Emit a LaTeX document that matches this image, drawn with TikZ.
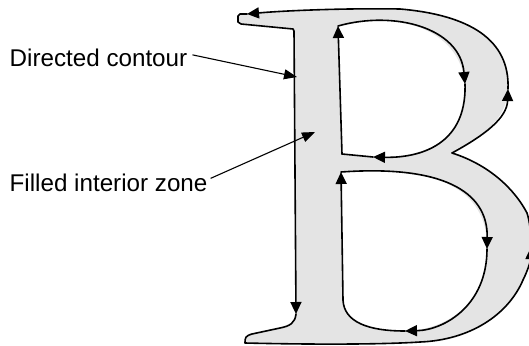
\documentclass[tikz,border=0pt]{standalone}
\usepackage{fontspec}
\setmainfont{Liberation Sans}
\usetikzlibrary{arrows.meta}
\definecolor{bfillc}{RGB}{228,228,228}
\begin{document}
\begin{tikzpicture}[x=1pt,y=-1pt,
  bcontour/.style={line width=1.6pt, line cap=round, line join=round},
  btip/.style={-{Triangle[length=12pt,width=11pt]}},
  leader/.style={line width=1.1pt, -{Triangle[length=13pt,width=10pt]}},
  lbl/.style={font=\fontsize{24.2}{28}\selectfont, inner sep=0pt, anchor=base west},
  % outer contour pieces
  o1/.style={insert path={.. controls (485,135) and (507,118) .. (508,89)}},
  o2/.style={insert path={.. controls (510,40) and (470,15) .. (400,9) .. controls (340,8) and (280,11) .. (247,14)}},
  o3/.style={insert path={-- (240,14) -- (238,16) -- (238,22) -- (241,24) -- (293,29) -- (294,31) -- (296,314)}},
  o4/.style={insert path={.. controls (295,323) and (290,326) .. (280,328) -- (252,334) .. controls (245,336) and (245,338) .. (245,343) .. controls (330,345) and (390,344) .. (420,342) .. controls (470,340) and (508,315) .. (523,280) .. controls (529,268) and (531,258) .. (531,247)}},
  o5/.style={insert path={.. controls (531,235) and (530,222) .. (527,213) .. controls (515,190) and (490,165) .. (452,153)}},
  % upper counter pieces
  u1/.style={insert path={-- (338,26)}},
  u2/.style={insert path={.. controls (395,10) and (460,28) .. (465,84)}},
  u3/.style={insert path={.. controls (467,150) and (412,158) .. (373,157)}},
  u4/.style={insert path={-- (342,154)}},
  % lower counter pieces
  l1/.style={insert path={-- (341,172)}},
  l2/.style={insert path={.. controls (440,165) and (488,190) .. (487,249)}},
  l3/.style={insert path={.. controls (487,305) and (445,330) .. (405,331)}},
  l4/.style={insert path={.. controls (368,331) and (344,322) .. (343,300)}}
]
\useasboundingbox (0,0) rectangle (529,345);
\clip (0,0) rectangle (529,345);

% filled interior zone
\fill[bfillc, even odd rule]
  (452,153) [o1] [o2] [o3] [o4] [o5] -- cycle
  (342,154) [u1] [u2] [u3] [u4] -- cycle
  (343,300) [l1] [l2] [l3] [l4] -- cycle;

% outer directed contour
\draw[bcontour, btip] (452,153) [o1];
\draw[bcontour, btip] (508,89) [o2];
\draw[bcontour, btip] (247,14) [o3];
\draw[bcontour, btip] (296,314) [o4];
\draw[bcontour] (531,247) [o5];

% upper counter
\draw[bcontour, btip] (342,154) [u1];
\draw[bcontour, btip] (338,26) [u2];
\draw[bcontour, btip] (465,84) [u3];
\draw[bcontour] (373,157) [u4];

% lower counter
\draw[bcontour, btip] (343,300) [l1];
\draw[bcontour, btip] (341,172) [l2];
\draw[bcontour, btip] (487,249) [l3];
\draw[bcontour] (405,331) [l4];

% labels and leaders
\node[lbl] (t1) at (9.5,66.5) {Directed contour};
\node[lbl] (t2) at (9.5,191) {Filled interior zone};
\coordinate (tip1) at (297,77);
\coordinate (tip2) at (315,132);
\draw[leader] ([xshift=5pt,yshift=3pt]t1.east) -- (tip1);
\draw[leader] ([xshift=3pt,yshift=4pt]t2.east) -- (tip2);
\end{tikzpicture}
\end{document}
